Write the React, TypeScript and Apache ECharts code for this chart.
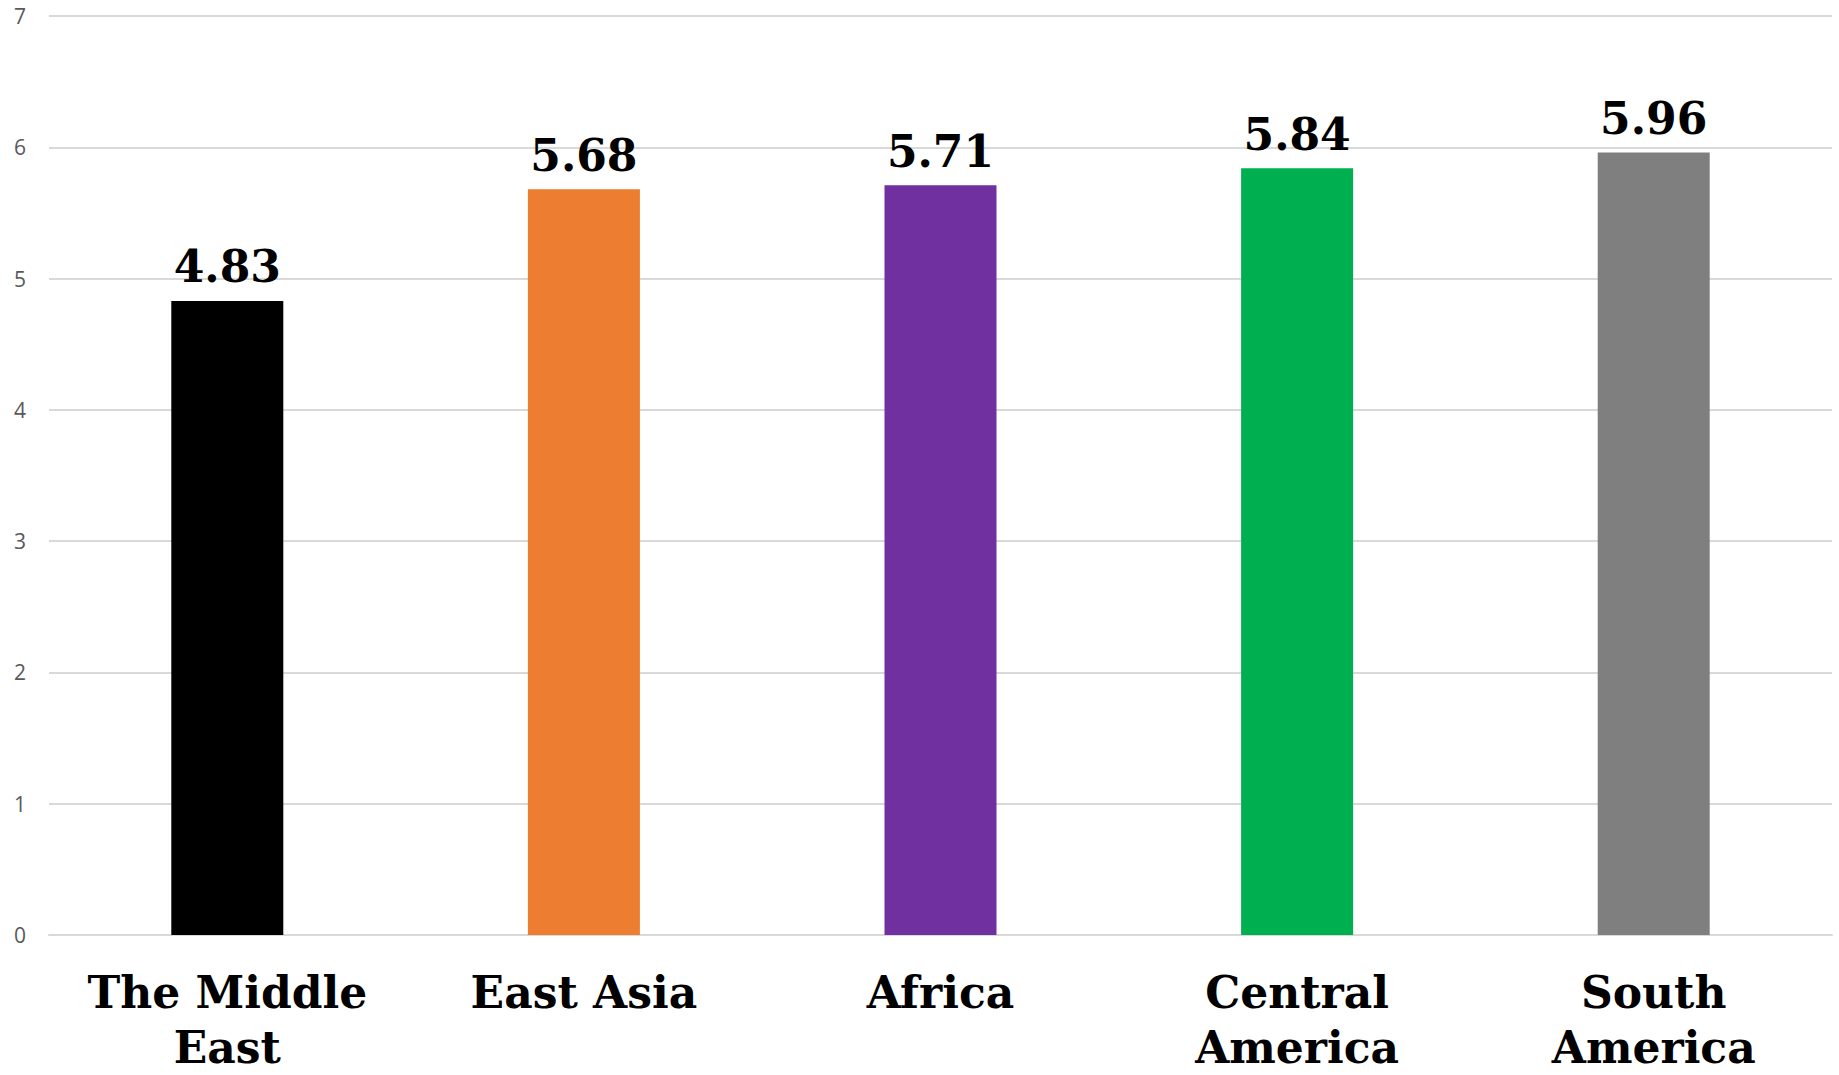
import React, { useEffect, useRef } from "react";
import * as echarts from "echarts";

const categories = ["The Middle\nEast", "East Asia", "Africa", "Central\nAmerica", "South\nAmerica"];
const values = [4.83, 5.68, 5.71, 5.84, 5.96];
const barColors = ["#000000", "#ED7D31", "#7030A0", "#00B050", "#7F7F7F"];
const yTicks = [0, 1, 2, 3, 4, 5, 6, 7];

export default function App() {
  const ref = useRef<HTMLDivElement>(null);
  useEffect(() => {
    if (!ref.current) return;
    const chart = echarts.init(ref.current, undefined, { renderer: "svg" });
    const serif = "'DejaVu Serif', 'Liberation Serif', serif";
    chart.setOption({
      animation: false,
      backgroundColor: "#ffffff",
      grid: { left: 49, right: 7, top: 16, bottom: 132, containLabel: false },
      xAxis: {
        type: "category",
        data: categories,
        axisLine: { show: true, lineStyle: { color: "#D9D9D9", width: 2 } },
        axisTick: { show: false },
        axisLabel: {
          interval: 0,
          margin: 30,
          color: "#000000",
          fontFamily: serif,
          fontWeight: "bold",
          fontSize: 44,
          lineHeight: 55,
        },
      },
      yAxis: {
        type: "value",
        min: yTicks[0],
        max: yTicks[yTicks.length - 1],
        interval: 1,
        axisLine: { show: false },
        axisTick: { show: false },
        splitLine: { lineStyle: { color: "#D9D9D9", width: 2 } },
        axisLabel: {
          margin: 23,
          color: "#595959",
          fontFamily: "'Open Sans', 'DejaVu Sans', sans-serif",
          fontSize: 21,
        },
      },
      series: [
        {
          type: "bar",
          barWidth: 112,
          data: values.map((v, i) => ({ value: v, itemStyle: { color: barColors[i] } })),
          label: {
            show: true,
            position: "top",
            distance: 12,
            color: "#000000",
            fontFamily: serif,
            fontWeight: "bold",
            fontSize: 44,
            formatter: (p: any) => p.value.toFixed(2),
          },
        },
      ],
    });
    return () => chart.dispose();
  }, []);
  return (
    <div
      ref={ref}
      style={{ position: "fixed", left: 0, top: 0, width: 1839, height: 1075 }}
    />
  );
}
